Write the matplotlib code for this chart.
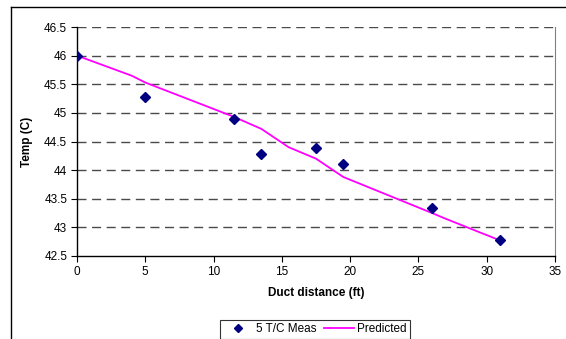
import matplotlib
matplotlib.use("Agg")
import matplotlib.pyplot as plt
from matplotlib.lines import Line2D

plt.rcParams['font.family'] = ['Liberation Sans', 'DejaVu Sans']

# measured thermocouple readings
meas_x = [0, 5, 11.5, 13.5, 17.5, 19.5, 26, 31]
meas_y = [46.0, 45.28, 44.9, 44.29, 44.38, 44.1, 43.34, 42.78]

# predicted curve
pred_x = [0, 4, 5, 11.5, 13.5, 15.5, 17.5, 19.5, 26, 27, 31]
pred_y = [46.0, 45.65, 45.53, 44.93, 44.72, 44.4, 44.2, 43.88, 43.25, 43.15, 42.77]

xticks = [0, 5, 10, 15, 20, 25, 30, 35]
yticks = [42.5, 43, 43.5, 44, 44.5, 45, 45.5, 46, 46.5]

fig = plt.figure(figsize=(5.66, 3.39), dpi=100)
ax = fig.add_axes([77/566, 83/339, 478/566, 229/339])

for y in yticks[1:]:
    ax.axhline(y, color='#4a4a4a', lw=1.0, ls=(0, (6.5, 4)), zorder=1)

ax.plot(meas_x, meas_y, 'D', color='#000080', ms=5, ls='none', label='5 T/C Meas', zorder=3)
ax.plot(pred_x, pred_y, color='#ff00ff', lw=1.3, label='Predicted', zorder=2)

ax.set_xlim(0, 35)
ax.set_ylim(42.5, 46.5)
ax.set_xticks(xticks)
ax.set_yticks(yticks)
ax.set_yticklabels([f"{v:g}" for v in yticks])
ax.tick_params(labelsize=8.5, direction='out', length=4, width=0.8, pad=3)
ax.spines['top'].set_visible(False)
ax.spines['right'].set_color('#808080')
ax.spines['right'].set_linewidth(0.8)
ax.spines['left'].set_linewidth(1)
ax.spines['bottom'].set_linewidth(1)
ax.set_xlabel("Duct distance (ft)", fontsize=8.5, fontweight='bold', labelpad=7)
ax.set_ylabel("Temp (C)", fontsize=8.5, fontweight='bold', labelpad=8)

# outer chart border (cut off on right and bottom)
fig.add_artist(Line2D([11/566, 11/566], [0, 1 - 7/339], transform=fig.transFigure, color='black', lw=1))
fig.add_artist(Line2D([11/566, 1], [1 - 7/339, 1 - 7/339], transform=fig.transFigure, color='black', lw=1))

leg = fig.legend(loc='upper center', bbox_to_anchor=(315/566, 1 - 314/339), ncol=2,
                 fontsize=8.5, frameon=True, fancybox=False, edgecolor='black',
                 handlelength=2.5, columnspacing=0.6, handletextpad=0.3, borderpad=0.3,
                 markerscale=0.8)
leg.get_frame().set_linewidth(0.8)

fig.savefig("out.png", dpi=100)
